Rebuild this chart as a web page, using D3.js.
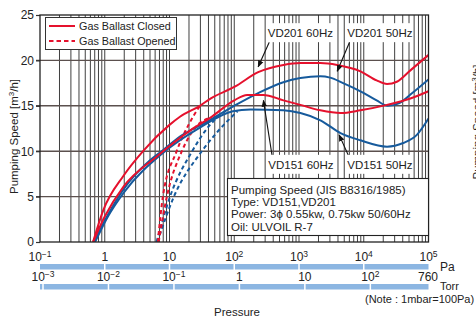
<!DOCTYPE html>
<html>
<head>
<meta charset="utf-8">
<script src="https://cdn.jsdelivr.net/npm/d3@7"></script>
<style>
  body { margin: 0; background: #fff; }
  svg text { font-family: "Liberation Sans", Arial, sans-serif; fill: #222; }
</style>
</head>
<body>
<script>
// pumping speed curves: [pressure Pa, speed m3/h]
var vd201_60 = [[0.66,0],[0.95,3.5],[1.95,7.3],[4.0,10.1],[10,12.9],[14.5,13.8],[29.5,15.0],[43,15.8],[102,17.1],[234,18.7],[575,19.5],[1050,19.7],[2140,19.7],[3890,19.5],[8900,18.8],[15800,17.8],[22900,17.4],[32400,17.65],[52500,18.9],[100000,20.6]];
var vd151_60 = [[0.66,0],[1.0,2.8],[1.95,6.1],[6.3,9.4],[21,12.3],[43,13.7],[100,15.6],[158,16.2],[280,16.2],[575,15.6],[1050,15.1],[2140,14.5],[4370,14.2],[8900,14.5],[22900,15.1],[52500,15.8],[100000,16.6]];
var vd201_50 = [[0.68,0],[1.12,3.0],[1.95,5.8],[5.0,9.0],[7.9,10.1],[14.5,11.6],[37,13.2],[100,15.0],[234,16.4],[575,17.6],[1050,18.05],[2140,18.25],[3020,18.1],[4790,17.5],[8900,16.6],[15800,15.6],[23400,15.0],[35500,15.3],[56200,16.4],[100000,17.9]];
var vd151_50 = [[0.71,0],[1.12,2.8],[1.95,5.4],[7.9,9.8],[29.5,12.6],[95,14.4],[178,14.6],[575,14.5],[1050,14.2],[2140,13.4],[4370,12.0],[8900,11.2],[22900,10.5],[40700,10.9],[66100,11.8],[100000,13.6]];
// gas ballast opened (dashed)
var gb201_60 = [[6.6,0],[7.9,5],[12.9,10],[20,13],[29.5,15.0]];
var gb151_60 = [[6.8,0],[9.1,5],[15.5,10],[25,12.6],[43,13.7]];
var gb201_50 = [[6.3,0],[10.2,5],[22.4,10],[40,12.7],[79,14.6]];
var gb151_50 = [[6.5,0],[11.7,5],[31.6,10],[56,12.2],[112,14.4]];

var speedTicks = [0,5,10,15,20,25];
var paTicks = [0.1,1,10,100,1000,10000,100000];
var paLabels = [['10','−1'],['1',''],['10',''],['10','2'],['10','3'],['10','4'],['10','5']];
var torrTicks = [0.001,0.01,0.1,1,10,100,760];
var torrLabels = [['10','−3'],['10','−2'],['10','−1'],['1',''],['10',''],['10','2'],['760','']];

// annotations: label centre, arrow tail, arrow tip  [Pa, speed]
var notes = [
  {text:'VD201 60Hz', label:[1050,23.0], tail:[347,22.0], tip:[234,19.3]},
  {text:'VD201 50Hz', label:[17800,23.0], tail:[6030,22.0], tip:[3890,18.8]},
  {text:'VD151 60Hz', label:[1070,8.5], tail:[389,9.25], tip:[282,15.6]},
  {text:'VD151 50Hz', label:[17800,8.5], tail:[6030,9.25], tip:[4170,11.8]}
];
var infoLines = ['Pumping Speed (JIS B8316/1985)','Type: VD151,VD201','Power: 3ϕ 0.55kw, 0.75kw 50/60Hz','Oil: ULVOIL R-7'];

var red = '#e5112d', blue = '#165a9c', barBlue = '#8cb6e2';

var W = 476, H = 317,
    plot = {left:40, right:428.5, top:15, bottom:242};

var svg = d3.select('body').append('svg')
  .attr('width', W).attr('height', H);

var x = d3.scaleLog().domain([0.1,100000]).range([plot.left, plot.right]);
var y = d3.scaleLinear().domain([0,25]).range([plot.bottom, plot.top]);
var xTorr = d3.scaleLog().domain([0.001,760]).range([43, 428]);

svg.append('defs').append('clipPath').attr('id','clip')
  .append('rect')
  .attr('x', plot.left).attr('y', plot.top)
  .attr('width', plot.right-plot.left).attr('height', plot.bottom-plot.top);
var m = svg.append('defs').append('marker')
  .attr('id','arrow').attr('viewBox','0 0 10 10')
  .attr('refX',9).attr('refY',5)
  .attr('markerWidth',7).attr('markerHeight',7)
  .attr('markerUnits','userSpaceOnUse')
  .attr('orient','auto');
m.append('path').attr('d','M0,1 L10,5 L0,9 Z').attr('fill','#111');

// vertical log grid
var minor = [];
for (var k = -1; k < 5; k++) for (var i = 1; i < 10; i++) minor.push(i*Math.pow(10,k));
svg.append('g').selectAll('line')
  .data(minor.filter(function(d) { return d > 0.1; }))
  .enter().append('line')
  .attr('x1', function(d) { return x(d); }).attr('x2', function(d) { return x(d); })
  .attr('y1', plot.top).attr('y2', plot.bottom)
  .attr('stroke', '#2a2a2a').attr('stroke-width', 0.9);

// horizontal grid
svg.append('g').selectAll('line')
  .data([5,10,15,20])
  .enter().append('line')
  .attr('x1', plot.left-4).attr('x2', plot.right)
  .attr('y1', function(d) { return y(d); }).attr('y2', function(d) { return y(d); })
  .attr('stroke', '#5b504e').attr('stroke-width', 1.4);

// y axis
var yAxis = d3.axisLeft(y).tickValues(speedTicks).tickSize(4).tickPadding(2);
var ya = svg.append('g').attr('transform','translate(' + plot.left + ',0)').call(yAxis);
ya.select('.domain').remove();
ya.selectAll('line').attr('stroke','#333').attr('stroke-width',1.2);
ya.selectAll('text').style('font-size','12px').attr('fill','#222').style('font-family','"Liberation Sans", Arial, sans-serif');

svg.append('text')
  .attr('transform','translate(18,' + ((plot.top+plot.bottom)/2+8) + ') rotate(-90)')
  .attr('text-anchor','middle')
  .style('font-size','11.5px')
  .html('Pumping Speed [m<tspan dy="-4" font-size="8">3</tspan><tspan dy="4">/h]</tspan>');

// curves
var line = d3.line()
  .x(function(d) { return x(d[0]); })
  .y(function(d) { return y(d[1]); })
  .curve(d3.curveMonotoneX);
var curves = [
  {data:gb201_50, color:blue, dash:'4,3'},
  {data:gb151_50, color:blue, dash:'4,3'},
  {data:gb201_60, color:red, dash:'4,3'},
  {data:gb151_60, color:red, dash:'4,3'},
  {data:vd151_50, color:blue},
  {data:vd201_50, color:blue},
  {data:vd151_60, color:red},
  {data:vd201_60, color:red}
];
svg.append('g').attr('clip-path','url(#clip)')
  .selectAll('path').data(curves).enter().append('path')
  .attr('d', function(d) { return line(d.data); })
  .attr('fill','none')
  .attr('stroke', function(d) { return d.color; })
  .attr('stroke-width', 2)
  .attr('stroke-dasharray', function(d) { return d.dash || null; });

// frame
svg.append('rect')
  .attr('x', plot.left).attr('y', plot.top)
  .attr('width', plot.right-plot.left).attr('height', plot.bottom-plot.top)
  .attr('fill','none').attr('stroke','#222').attr('stroke-width',1.3);

// legend
var lg = svg.append('g');
lg.append('rect').attr('x',45.5).attr('y',17.5).attr('width',131).attr('height',32)
  .attr('fill','#fff').attr('stroke','#333').attr('stroke-width',1);
lg.append('line').attr('x1',49).attr('x2',75).attr('y1',26).attr('y2',26)
  .attr('stroke',red).attr('stroke-width',2);
lg.append('line').attr('x1',49).attr('x2',75).attr('y1',41).attr('y2',41)
  .attr('stroke',red).attr('stroke-width',2).attr('stroke-dasharray','4.5,3');
lg.append('text').attr('x',79).attr('y',30).style('font-size','10.8px').text('Gas Ballast Closed');
lg.append('text').attr('x',79).attr('y',45).style('font-size','10.8px').text('Gas Ballast Opened');

// annotations
var ng = svg.append('g').selectAll('g').data(notes).enter().append('g');
ng.append('line')
  .attr('x1', function(d) { return x(d.tail[0]); }).attr('y1', function(d) { return y(d.tail[1]); })
  .attr('x2', function(d) { return x(d.tip[0]); }).attr('y2', function(d) { return y(d.tip[1]); })
  .attr('stroke','#111').attr('stroke-width',1.1)
  .attr('marker-end','url(#arrow)');
ng.append('rect')
  .attr('x', function(d) { return x(d.label[0]) - 33; })
  .attr('y', function(d) { return y(d.label[1]) - 10; })
  .attr('width', 66).attr('height', 19)
  .attr('fill','#fff');
ng.append('text')
  .attr('x', function(d) { return x(d.label[0]); })
  .attr('y', function(d) { return y(d.label[1]) + 4; })
  .attr('text-anchor','middle')
  .style('font-size','11.5px')
  .text(function(d) { return d.text; });

// info box
var ib = svg.append('g');
ib.append('rect').attr('x',227.5).attr('y',178.5).attr('width',201).attr('height',57)
  .attr('fill','#fff').attr('stroke','#222').attr('stroke-width',1.1);
ib.selectAll('text').data(infoLines).enter().append('text')
  .attr('x',231).attr('y', function(d, i) { return 194 + i*12.2; })
  .style('font-size','11.5px')
  .text(function(d) { return d; });

// pressure bars
function bar(scale, ticks, labels, gaps, yBar, yText) {
  var g = svg.append('g');
  g.append('rect').attr('x', plot.left).attr('y', yBar)
    .attr('width', plot.right - plot.left).attr('height', 5.5).attr('fill', barBlue);
  g.selectAll('line').data(gaps).enter().append('line')
    .attr('x1', function(d) { return scale(d); }).attr('x2', function(d) { return scale(d); })
    .attr('y1', yBar-0.5).attr('y2', yBar+6)
    .attr('stroke','#fff').attr('stroke-width',1.5);
  var t = g.selectAll('text').data(ticks).enter().append('text')
    .attr('x', function(d) { return scale(d); })
    .attr('y', yText)
    .attr('text-anchor','middle')
    .style('font-size','12px');
  t.append('tspan').text(function(d, i) { return labels[i][0]; });
  t.append('tspan').attr('dy',-4).style('font-size','8.5px')
    .text(function(d, i) { return labels[i][1]; });
}
bar(x, paTicks, paLabels, paTicks.slice(1, -1), 264, 261);
bar(xTorr, torrTicks, torrLabels, torrTicks.slice(0, -1), 284, 281);

svg.append('text').attr('x',440).attr('y',271).style('font-size','12px').text('Pa');
svg.append('text').attr('x',440).attr('y',290).style('font-size','11px').text('Torr');
svg.append('text').attr('x',365).attr('y',303).style('font-size','11px').text('(Note : 1mbar=100Pa)');
svg.append('text').attr('x',237).attr('y',316).attr('text-anchor','middle').style('font-size','11.5px').text('Pressure');

// neighbouring chart's axis title, cut at the edge as in the source picture
svg.append('text')
  .attr('transform','translate(481,122) rotate(-90)')
  .attr('text-anchor','middle')
  .style('font-size','11.5px')
  .html('Pumping Speed [m<tspan dy="-4" font-size="8">3</tspan><tspan dy="4">/h]</tspan>');
</script>
</body>
</html>
